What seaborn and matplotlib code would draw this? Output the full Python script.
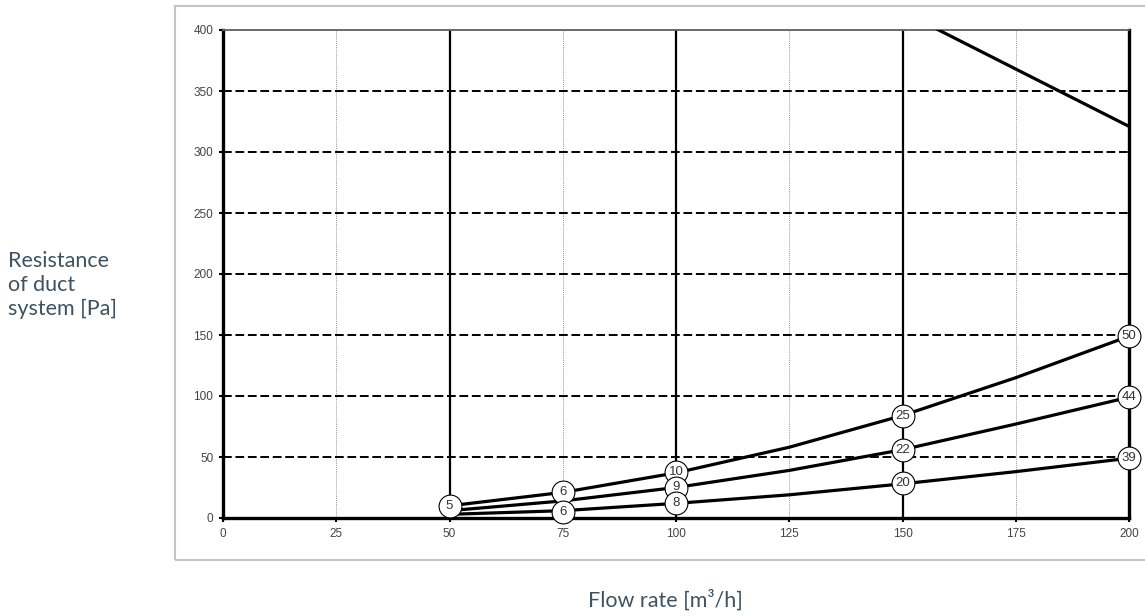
import matplotlib
matplotlib.use("Agg")
import matplotlib.pyplot as plt
import seaborn as sns
import pandas as pd
from matplotlib.patches import Rectangle

# ---- data ----
flow = [50, 75, 100, 125, 150, 175, 200]
curve_a = [10, 21, 37, 58, 84, 115, 149]
curve_b = [6, 14, 25, 39, 56, 77, 99]
curve_c = [3, 6, 12, 19, 28, 38, 49]

fan_flow = [150, 175, 200]
fan_pressure = [415, 368, 321]

label_flow_a = [50, 75, 100, 150, 200]
label_val_a = [10, 21, 38, 84, 149]
label_txt_a = ["5", "6", "10", "25", "50"]

label_flow_b = [100, 150, 200]
label_val_b = [25, 56, 99]
label_txt_b = ["9", "22", "44"]

label_flow_c = [75, 100, 150, 200]
label_val_c = [5, 12, 29, 49]
label_txt_c = ["6", "8", "20", "39"]

x_ticks = [0, 25, 50, 75, 100, 125, 150, 175, 200]
y_ticks = [0, 50, 100, 150, 200, 250, 300, 350, 400]

sns.set_theme(style="white")
plt.rcParams["font.family"] = ["Liberation Sans", "DejaVu Sans"]

fig = plt.figure(figsize=(11.45, 6.16), dpi=100)
ax = fig.add_axes([223 / 1145, 1 - 518 / 616, (1129 - 223) / 1145, (518 - 30) / 616])

# outer light frame
fig.patches.append(Rectangle((175 / 1145, 1 - 560 / 616), 1.2, (560 - 6) / 616,
                             transform=fig.transFigure, fill=False,
                             edgecolor="#c4c4c4", lw=1.5, zorder=0))

# grid lines
for xv in [50, 100, 150]:
    ax.axvline(xv, color="black", lw=1.6, zorder=1)
for xv in [25, 75, 125, 175]:
    ax.axvline(xv, color="#9a9a9a", lw=0.7, ls=(0, (1, 1)), zorder=1)
for yv in [50, 100, 150, 200, 250, 300, 350]:
    ax.axhline(yv, color="black", lw=1.4, ls=(0, (4.5, 1.9)), zorder=1)

df = pd.concat([
    pd.DataFrame({"flow": flow, "pressure": curve_a, "curve": "a"}),
    pd.DataFrame({"flow": flow, "pressure": curve_b, "curve": "b"}),
    pd.DataFrame({"flow": flow, "pressure": curve_c, "curve": "c"}),
])
sns.lineplot(data=df, x="flow", y="pressure", units="curve", estimator=None,
             color="black", lw=2.3, ax=ax, zorder=3)
sns.lineplot(x=fan_flow, y=fan_pressure, color="black", lw=2.3, ax=ax, zorder=3)

def circles(xs, ys, txts, z):
    ax.scatter(xs, ys, s=270, facecolor="white", edgecolor="black",
               linewidths=0.8, zorder=z, clip_on=False)
    for x, y, t in zip(xs, ys, txts):
        ax.text(x, y, t, ha="center", va="center", fontsize=9.5,
                color="#333333", zorder=z + 0.5)

circles(label_flow_a, label_val_a, label_txt_a, 4)
circles(label_flow_b, label_val_b, label_txt_b, 5)
circles(label_flow_c, label_val_c, label_txt_c, 6)

ax.set_xlim(0, 200)
ax.set_ylim(0, 400)
ax.set_xticks(x_ticks)
ax.set_yticks(y_ticks)
ax.set_xticklabels([str(v) for v in x_ticks])
ax.set_yticklabels([str(v) for v in y_ticks])
ax.tick_params(axis="both", which="major", direction="out", length=3, width=1.5,
               color="black", labelsize=8.5, labelcolor="#444444", pad=4,
               bottom=True, left=True)
ax.set_xlabel("")
ax.set_ylabel("")

for side in ["left", "bottom", "right"]:
    ax.spines[side].set_color("black")
    ax.spines[side].set_linewidth(2.4)
ax.spines["top"].set_color("#606060")
ax.spines["top"].set_linewidth(1.3)

label_color = "#3d5262"
fig.text(8 / 1145, 1 - 285 / 616, "Resistance\nof duct\nsystem [Pa]",
         ha="left", va="center", fontsize=15.5, color=label_color,
         family=["Lato", "DejaVu Sans"], linespacing=1.25)
fig.text(665 / 1145, 1 - 607 / 616, "Flow rate [m³/h]",
         ha="center", va="baseline", fontsize=15.5, color=label_color,
         family=["Lato", "DejaVu Sans"])

fig.savefig("out.png", dpi=100)
